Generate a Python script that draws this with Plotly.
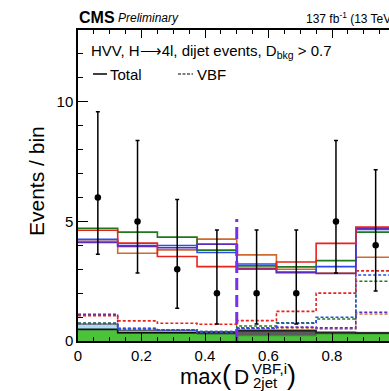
import plotly.graph_objects as go

# ---------------- data ----------------
bin_edges = [0.0, 0.125, 0.25, 0.375, 0.5, 0.625, 0.75, 0.875, 1.0]
bin_centers = [0.0625, 0.1875, 0.3125, 0.4375, 0.5625, 0.6875, 0.8125, 0.9375]

data_counts = [6, 5, 3, 2, 2, 2, 5, 4]
data_err_up = [3.58, 3.38, 2.92, 2.64, 2.64, 2.64, 3.38, 3.16]
data_err_down = [2.37, 2.16, 1.63, 1.29, 1.29, 1.29, 2.16, 1.91]

# stacked backgrounds
bkg_green = [0.45, 0.32, 0.32, 0.28, 0.22, 0.22, 0.30, 0.30]
bkg_gray = [0.04, 0.03, 0.03, 0.07, 0.21, 0.21, 0.05, 0.04]
bkg_lightblue = [0.22, 0.10, 0.10, 0.04, 0.03, 0.03, 0.02, 0.02]

# total expectation (solid) per hypothesis
total_red = [4.63, 4.09, 3.53, 3.11, 3.00, 3.30, 4.08, 4.76]
total_green = [4.71, 4.55, 4.34, 3.80, 3.14, 3.10, 3.36, 4.55]
total_blue = [4.25, 3.99, 3.99, 3.70, 3.22, 2.88, 3.11, 4.66]
total_orange = [4.17, 3.67, 3.81, 4.26, 3.60, 3.00, 2.84, 3.50]
total_purple = [4.12, 3.95, 3.90, 4.05, 3.04, 2.86, 2.82, 4.72]

# VBF contribution (dashed) per hypothesis
vbf_red = [1.06, 0.84, 0.74, 0.70, 0.85, 1.24, 2.00, 2.93]
vbf_green = [0.75, 0.53, 0.47, 0.40, 0.63, 0.76, 0.92, 2.50]
vbf_blue = [0.73, 0.52, 0.46, 0.39, 0.55, 0.74, 0.99, 2.76]
vbf_orange = [0.72, 0.50, 0.45, 0.38, 0.50, 0.55, 0.50, 1.13]
vbf_purple = [1.12, 0.50, 0.45, 0.38, 0.53, 0.58, 0.55, 1.20]

cut_value = 0.5
cut_height = 5.1

x_tick_vals = [0, 0.2, 0.4, 0.6, 0.8]
x_tick_text = ["0", "0.2", "0.4", "0.6", "0.8"]
y_tick_vals = [0, 5, 10]
y_tick_text = ["0", "5", "10"]

# ---------------- style ----------------
C_RED = "#e8231c"
C_GREEN = "#1f7a1f"
C_BLUE = "#2b4cf0"
C_ORANGE = "#cf6a2c"
C_PURPLE = "#5e2bbf"
FONT = "Liberation Sans, Arial, sans-serif"

W, H = 389, 391
L, T, B = 78, 30, 50
PW = W - L
PH = H - T - B
X_SCALE = 317.5  # px per unit x
x_max = PW / X_SCALE


def px(xp, yp):
    return (xp - L) / PW, (H - B - yp) / PH


def step_y(vals):
    return list(vals) + [vals[-1]]


fig = go.Figure()

# stacked fills
cum1 = list(bkg_green)
cum2 = [a + b for a, b in zip(cum1, bkg_gray)]
cum3 = [a + b for a, b in zip(cum2, bkg_lightblue)]
fig.add_trace(go.Scatter(x=bin_edges, y=step_y(cum1), mode="lines", line_shape="hv",
                         line=dict(color="#2e8b2e", width=1), fill="tozeroy",
                         fillcolor="#4cc23a", showlegend=False, hoverinfo="skip"))
fig.add_trace(go.Scatter(x=bin_edges, y=step_y(cum2), mode="lines", line_shape="hv",
                         line=dict(color="#111111", width=1.6), fill="tonexty",
                         fillcolor="#5a5a5a", showlegend=False, hoverinfo="skip"))
fig.add_trace(go.Scatter(x=bin_edges, y=step_y(cum3), mode="lines", line_shape="hv",
                         line=dict(color="#333333", width=1), fill="tonexty",
                         fillcolor="#a8def3", showlegend=False, hoverinfo="skip"))

# dashed VBF lines
for vals, col in [(vbf_orange, C_ORANGE), (vbf_purple, C_PURPLE), (vbf_green, C_GREEN),
                  (vbf_blue, C_BLUE), (vbf_red, C_RED)]:
    fig.add_trace(go.Scatter(x=bin_edges, y=step_y(vals), mode="lines", line_shape="hv",
                             line=dict(color=col, width=1.6, dash="3px,2px"),
                             showlegend=False, hoverinfo="skip"))

# solid total lines
for vals, col in [(total_orange, C_ORANGE), (total_green, C_GREEN), (total_blue, C_BLUE),
                  (total_purple, C_PURPLE), (total_red, C_RED)]:
    fig.add_trace(go.Scatter(x=bin_edges, y=step_y(vals), mode="lines", line_shape="hv",
                             line=dict(color=col, width=1.6),
                             showlegend=False, hoverinfo="skip"))

# cut line
fig.add_trace(go.Scatter(x=[cut_value, cut_value], y=[0, cut_height], mode="lines",
                         line=dict(color="#7a2cf0", width=3, dash="12px,5px"),
                         showlegend=False, hoverinfo="skip"))

# data
fig.add_trace(go.Scatter(x=bin_centers, y=data_counts, mode="markers",
                         marker=dict(color="black", size=6.5),
                         error_y=dict(type="data", symmetric=False, array=data_err_up,
                                      arrayminus=data_err_down, color="black",
                                      thickness=1.5, width=2),
                         showlegend=False, hoverinfo="skip"))

# dummy trace for top axis
fig.add_trace(go.Scatter(x=[0], y=[0], xaxis="x2", mode="markers",
                         marker=dict(opacity=0), showlegend=False, hoverinfo="skip"))

fig.update_layout(
    width=W, height=H,
    margin=dict(l=L, r=0, t=T, b=B, pad=0),
    paper_bgcolor="white", plot_bgcolor="white",
    font=dict(family=FONT, color="black"),
    xaxis=dict(range=[0, x_max], showgrid=False, zeroline=False,
               showline=True, linecolor="black", linewidth=1.5,
               ticks="inside", ticklen=8, tickwidth=1, tickcolor="black",
               tickvals=x_tick_vals, ticktext=x_tick_text,
               tickfont=dict(size=15, family=FONT, color="black"),
               minor=dict(ticks="inside", ticklen=4, dtick=0.05, tick0=0,
                          tickcolor="black", tickwidth=1)),
    xaxis2=dict(range=[0, x_max], overlaying="x", side="top", showgrid=False,
                zeroline=False, showline=True, linecolor="black", linewidth=1.5,
                ticks="inside", ticklen=8, tickwidth=1, tickcolor="black",
                tickvals=x_tick_vals, showticklabels=False,
                minor=dict(ticks="inside", ticklen=4, dtick=0.05, tick0=0,
                           tickcolor="black", tickwidth=1)),
    yaxis=dict(range=[0, 13], showgrid=False, zeroline=False,
               showline=True, linecolor="black", linewidth=1.5,
               ticks="inside", ticklen=10, tickwidth=1, tickcolor="black",
               tickvals=y_tick_vals, ticktext=y_tick_text,
               tickfont=dict(size=15, family=FONT, color="black"),
               minor=dict(ticks="inside", ticklen=5, dtick=1, tick0=0,
                          tickcolor="black", tickwidth=1)),
)

annotations = []


def ann(text, xp, yp, size, xanchor="left", yanchor="middle", textangle=0, **kw):
    xpp, ypp = px(xp, yp)
    annotations.append(dict(text=text, x=xpp, y=ypp, xref="paper", yref="paper",
                            xanchor=xanchor, yanchor=yanchor, showarrow=False,
                            textangle=textangle,
                            font=dict(size=size, family=FONT, color="black"), **kw))


ann("<b>CMS</b>", 77, 18, 16)
ann("<i>Preliminary</i>", 116, 18, 12)
ann("137 fb<sup>-1</sup> (13 TeV)", 304, 18, 12)
ann("HVV, H\u27f64l, dijet events, D<sub>bkg</sub> > 0.7", 89, 52, 15)
ann("Total", 108, 74, 15)
ann("VBF", 195, 74, 15)
ann("Events / bin", 36, 181, 21, xanchor="center", textangle=-90)
# x title pieces
ann("max", 201, 376, 22, xanchor="center")
ann("(", 226, 375, 27, xanchor="center")
ann("D", 241, 376, 21, xanchor="center")
ann("VBF,i", 250, 368, 15)
ann("2jet", 251, 382, 15)
ann(")", 291, 375, 27, xanchor="center")

fig.update_layout(annotations=annotations)

# legend glyph lines
x0, y0 = px(93, 74)
x1, _ = px(107, 74)
fig.add_shape(type="line", xref="paper", yref="paper", x0=x0, x1=x1, y0=y0, y1=y0,
              line=dict(color="black", width=1.5))
x0, y0 = px(178, 74)
x1, _ = px(193, 74)
fig.add_shape(type="line", xref="paper", yref="paper", x0=x0, x1=x1, y0=y0, y1=y0,
              line=dict(color="black", width=1.2, dash="3px,1.5px"))

fig.write_html("out.html")
